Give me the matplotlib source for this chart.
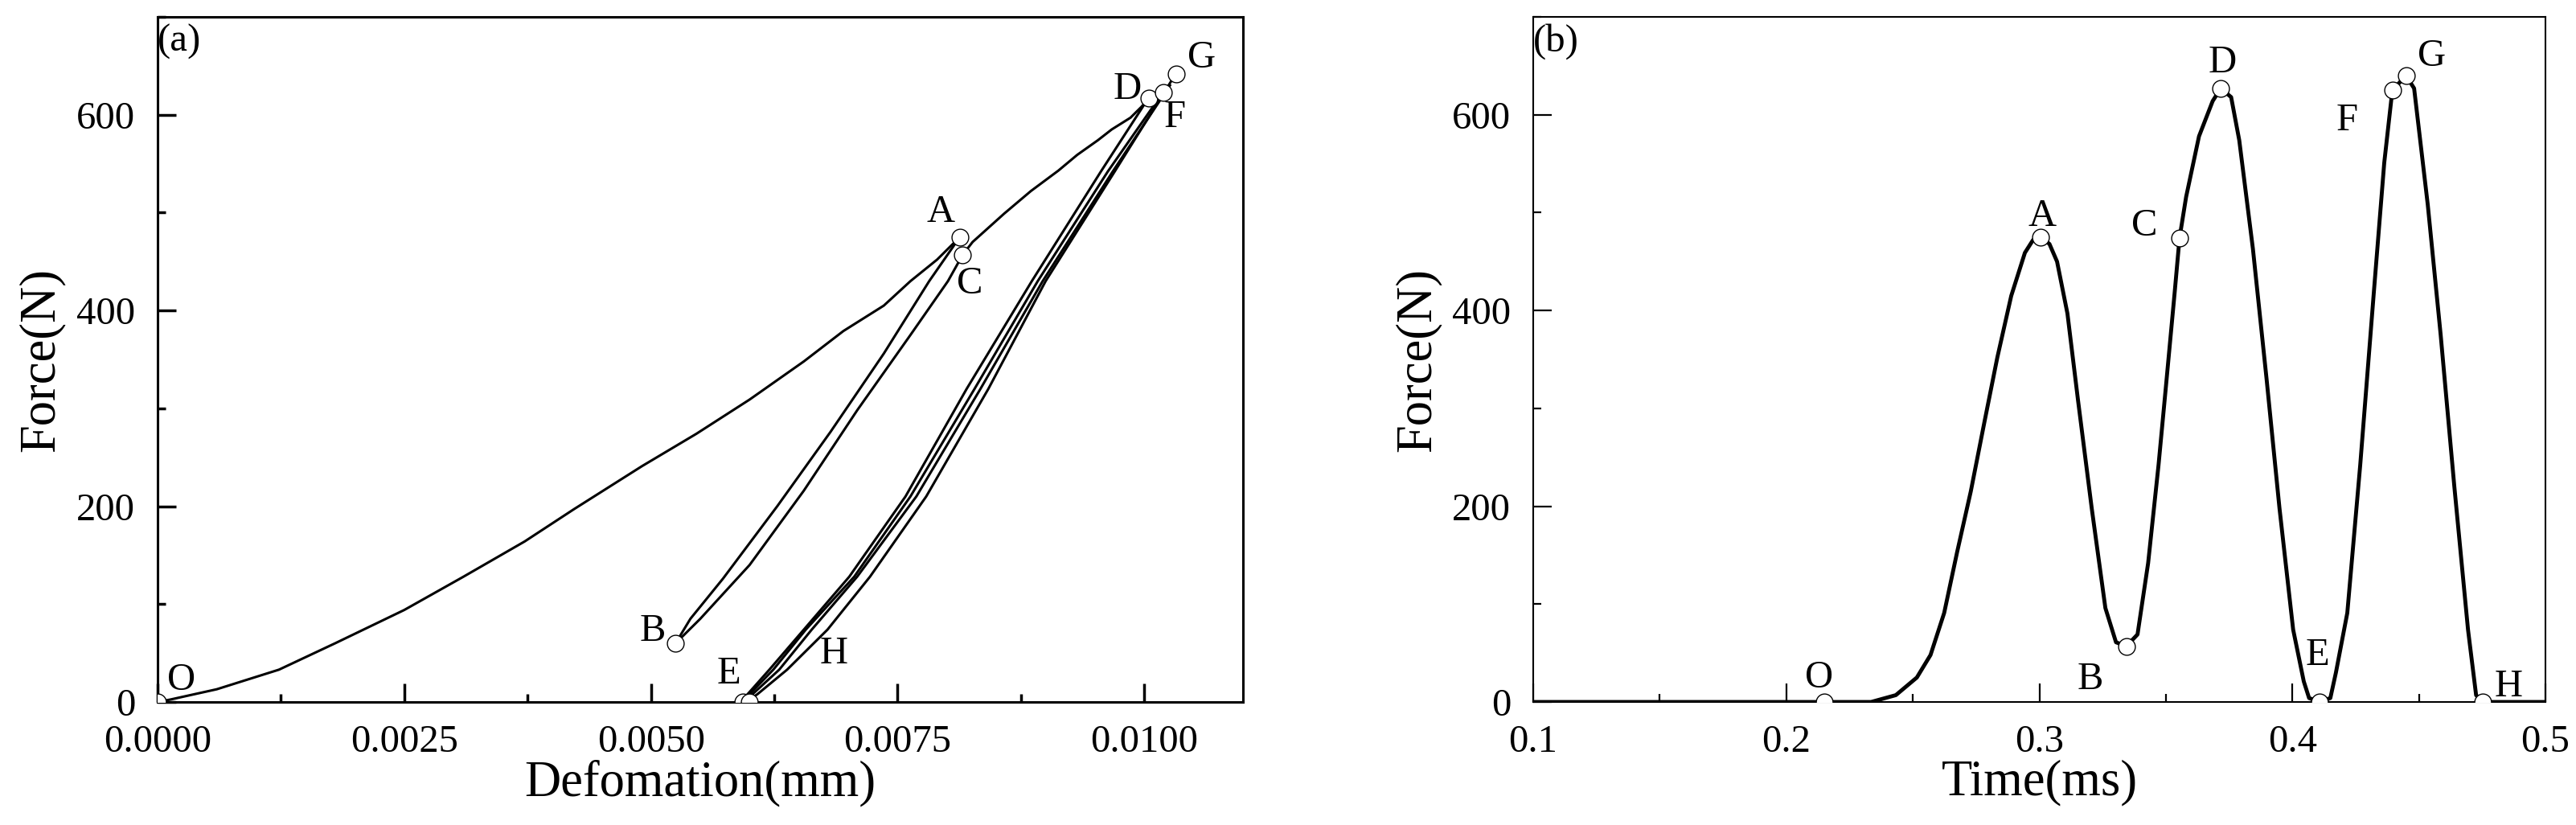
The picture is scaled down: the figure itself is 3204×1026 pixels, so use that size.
import matplotlib.pyplot as plt
from matplotlib.ticker import MultipleLocator, FormatStrFormatter

plt.rcParams["font.family"] = ["Liberation Serif", "DejaVu Serif"]

# ---- (a) force vs deformation ----
load_x = [0, 0.00013, 0.0006, 0.00123, 0.0018, 0.0025, 0.0031, 0.00372, 0.00422,
          0.00491, 0.00546, 0.0060, 0.00655, 0.00695, 0.00736, 0.00763, 0.0079, 0.00813]
load_f = [0, 2.5, 13, 33, 60, 94, 128, 164, 197, 241, 274, 309, 348, 379, 405, 430, 452, 475]

unload_ab_x = [0.00813, 0.00782, 0.00736, 0.00682, 0.00628, 0.00573, 0.0054, 0.00525]
unload_ab_f = [475, 430, 356, 276, 200, 126, 85, 60]

reload_bc_x = [0.00525, 0.0055, 0.006, 0.00655, 0.00709, 0.00763, 0.00801, 0.00816]
reload_bc_f = [60, 85, 140, 216, 298, 375, 430, 457]

load_cd_x = [0.00816, 0.00826, 0.00858, 0.00885, 0.00913, 0.00932, 0.00953, 0.00967,
             0.00986, 0.00997, 0.01005]
load_cd_f = [457, 470, 499, 522, 543, 559, 574, 585, 597, 608, 617]

# four branches after D (unloading / reloading down to E and H)
branch_x = [
    [0.01005, 0.00999, 0.00956, 0.00886, 0.0082, 0.00758, 0.00701, 0.00655, 0.0062, 0.00598, 0.00592],
    [0.00592, 0.006, 0.00624, 0.00657, 0.00706, 0.00763, 0.00828, 0.00892, 0.00963, 0.01019],
    [0.00594, 0.00603, 0.0063, 0.00663, 0.00709, 0.00769, 0.00834, 0.00897, 0.00968, 0.01026],
    [0.01032, 0.0097, 0.009, 0.00842, 0.00779, 0.00722, 0.00679, 0.00638, 0.00608, 0.00598],
]
branch_f = [
    [617, 609, 542, 430, 320, 210, 128, 74, 33, 8, 2],
    [2, 8, 33, 74, 128, 210, 320, 430, 542, 623],
    [2, 8, 33, 74, 128, 210, 320, 430, 542, 630],
    [642, 542, 430, 320, 210, 128, 74, 33, 8, 1],
]

pts_a = ["O", "A", "B", "C", "D", "E", "F", "G", "H"]
pts_a_x = [0, 0.00813, 0.00525, 0.00816, 0.01005, 0.00593, 0.01019, 0.01032, 0.006]
pts_a_f = [0, 475, 60, 457, 617, 0, 623, 642, 0]
lbl_a_x = [0.00024, 0.00794, 0.00502, 0.00823, 0.00983, 0.00579, 0.01031, 0.01058, 0.00685]
lbl_a_f = [22, 500, 72, 427, 626, 29, 597, 658, 49]

# ---- (b) force vs time ----
time_ms = [0.100, 0.200, 0.215, 0.2335, 0.2433, 0.2516, 0.257, 0.2624, 0.2675, 0.2729,
           0.2783, 0.2834, 0.2889, 0.2943, 0.2975, 0.3006, 0.3040, 0.307, 0.3111, 0.3153,
           0.3207, 0.3261, 0.3303, 0.3344, 0.3388, 0.343, 0.3471, 0.3503, 0.3535, 0.3554,
           0.358, 0.3631, 0.3685, 0.3717, 0.3758, 0.379, 0.3844, 0.3898, 0.3949, 0.4003,
           0.4045, 0.4066, 0.4108, 0.415, 0.4172, 0.4217, 0.4268, 0.4322, 0.4363, 0.4395,
           0.4449, 0.4481, 0.4535, 0.4586, 0.464, 0.4694, 0.4726, 0.4752, 0.500]
force_t = [0, 0, 0, 0, 7, 25, 48, 91, 153, 215,
           286, 352, 415, 459, 472, 475, 468, 450, 397, 308,
           198, 96, 61, 57, 69, 142, 242, 330, 419, 474,
           516, 578, 614, 627, 618, 574, 463, 330, 198, 74,
           21, 4, 0, 4, 30, 91, 242, 419, 551, 625,
           640, 627, 508, 375, 220, 74, 7, 0, 0]

pts_b = ["O", "A", "B", "C", "D", "E", "F", "G", "H"]
pts_b_t = [0.215, 0.3006, 0.3344, 0.3554, 0.3717, 0.4108, 0.4395, 0.4449, 0.4752]
pts_b_f = [0, 475, 57, 474, 627, 0, 625, 640, 0]
lbl_b_t = [0.213, 0.301, 0.320, 0.3414, 0.3723, 0.4099, 0.4216, 0.455, 0.4853]
lbl_b_f = [25, 496, 23, 486, 653, 48, 594, 660, 16]

fig = plt.figure(figsize=(32.05, 10.26), dpi=100)
ax1 = fig.add_axes([0.06115, 0.14912, 0.42122, 0.83041])
ax2 = fig.add_axes([0.59501, 0.14912, 0.39282, 0.83041])

lw_a = 2.2
ax1.plot(load_x, load_f, color="black", lw=lw_a)
ax1.plot(unload_ab_x, unload_ab_f, color="black", lw=lw_a)
ax1.plot(reload_bc_x, reload_bc_f, color="black", lw=lw_a)
ax1.plot(load_cd_x, load_cd_f, color="black", lw=lw_a)
for bx, bf in zip(branch_x, branch_f):
    ax1.plot(bx, bf, color="black", lw=lw_a)
ax1.plot(pts_a_x, pts_a_f, "o", ms=15, mfc="white", mec="black", mew=1.0, zorder=5)
for name, x, f in zip(pts_a, lbl_a_x, lbl_a_f):
    ax1.text(x, f, name, fontsize=35, ha="center", va="center")

ax2.plot(time_ms, force_t, color="black", lw=3.5)
ax2.plot(pts_b_t, pts_b_f, "o", ms=15, mfc="white", mec="black", mew=1.0, zorder=5)
for name, x, f in zip(pts_b, lbl_b_t, lbl_b_f):
    ax2.text(x, f, name, fontsize=35, ha="center", va="center")

ax1.set_xlim(0, 0.011)
ax1.set_ylim(0, 700)
ax1.xaxis.set_major_locator(MultipleLocator(0.0025))
ax1.xaxis.set_minor_locator(MultipleLocator(0.00125))
ax1.xaxis.set_major_formatter(FormatStrFormatter("%.4f"))
ax1.set_xlabel("Defomation(mm)", fontsize=45, labelpad=0)

ax2.set_xlim(0.1, 0.5)
ax2.set_ylim(0, 700)
ax2.xaxis.set_major_locator(MultipleLocator(0.1))
ax2.xaxis.set_minor_locator(MultipleLocator(0.05))
ax2.xaxis.set_major_formatter(FormatStrFormatter("%.1f"))
ax2.set_xlabel("Time(ms)", fontsize=45, labelpad=0)

for ax, sw, tw in [(ax1, 2.2, 2.5), (ax2, 1.5, 1.6)]:
    ax.yaxis.set_major_locator(MultipleLocator(200))
    ax.yaxis.set_minor_locator(MultipleLocator(100))
    ax.set_ylabel("Force(N)", fontsize=45, labelpad=10)
    for s in ax.spines.values():
        s.set_linewidth(sw)
    ax.tick_params(which="both", direction="in", top=False, right=False,
                   labelsize=35, pad=20, width=tw)
    ax.tick_params(which="major", length=16.5)
    ax.tick_params(which="minor", length=7.5)

ax1.text(0.0, 0.9636, "(a)", transform=ax1.transAxes, fontsize=35, ha="left", va="center")
ax2.text(0.0, 0.9636, "(b)", transform=ax2.transAxes, fontsize=35, ha="left", va="center")

fig.savefig("out.png", dpi=100)
